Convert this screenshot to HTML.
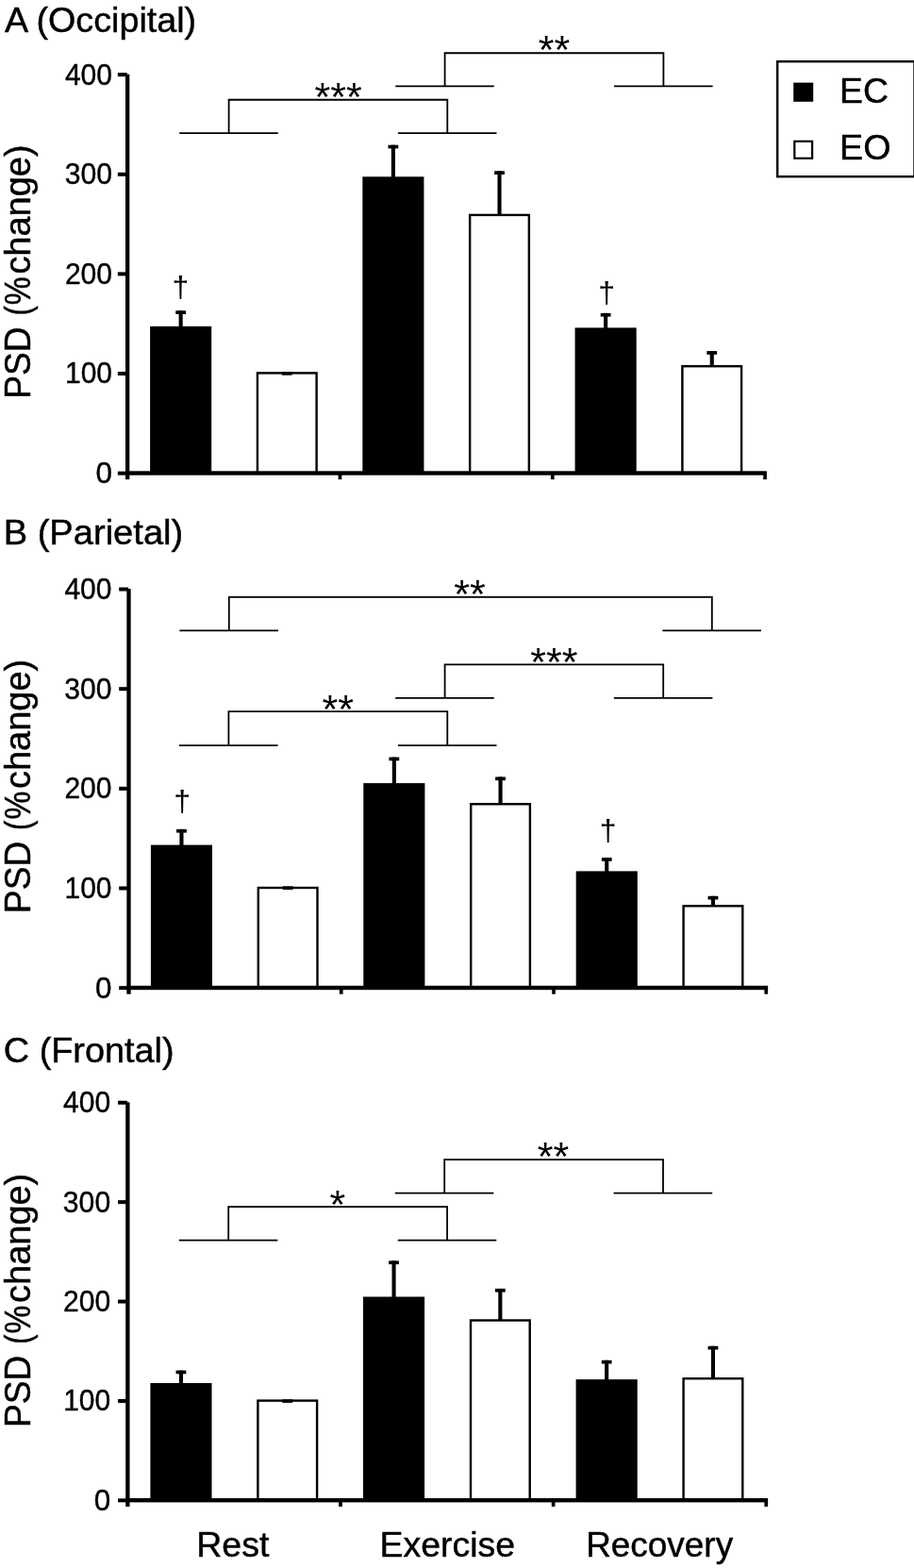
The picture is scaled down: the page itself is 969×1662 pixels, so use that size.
<!DOCTYPE html>
<html><head><meta charset="utf-8"><title>Figure</title>
<style>html,body{margin:0;padding:0;background:#fff}svg{display:block;will-change:transform}</style></head><body>
<svg width="969" height="1662" viewBox="0 0 969 1662">
<rect width="969" height="1662" fill="#fff"/>
<rect x="189.60" y="329.30" width="4.1" height="17.60" fill="#000"/>
<rect x="186.25" y="329.30" width="10.8" height="3.7" fill="#000"/>
<rect x="159.10" y="345.90" width="65.1" height="155.60" fill="#000"/>
<rect x="298.87" y="394.30" width="10.8" height="3.7" fill="#000"/>
<rect x="272.92" y="395.40" width="62.70" height="106.10" fill="#fff" stroke="#000" stroke-width="2.4"/>
<rect x="298.87" y="394.30" width="10.8" height="3.4" fill="#000"/>
<rect x="414.84" y="153.70" width="4.1" height="34.60" fill="#000"/>
<rect x="411.49" y="153.70" width="10.8" height="3.7" fill="#000"/>
<rect x="384.34" y="187.30" width="65.1" height="314.20" fill="#000"/>
<rect x="527.46" y="181.30" width="4.1" height="46.40" fill="#000"/>
<rect x="524.11" y="181.30" width="10.8" height="3.7" fill="#000"/>
<rect x="498.16" y="227.90" width="62.70" height="273.60" fill="#fff" stroke="#000" stroke-width="2.4"/>
<rect x="640.08" y="331.90" width="4.1" height="16.50" fill="#000"/>
<rect x="636.73" y="331.90" width="10.8" height="3.7" fill="#000"/>
<rect x="609.58" y="347.40" width="65.1" height="154.10" fill="#000"/>
<rect x="752.70" y="372.10" width="4.1" height="15.90" fill="#000"/>
<rect x="749.35" y="372.10" width="10.8" height="3.7" fill="#000"/>
<rect x="723.40" y="388.20" width="62.70" height="113.30" fill="#fff" stroke="#000" stroke-width="2.4"/>
<rect x="133.00" y="78.70" width="4.3" height="429.50" fill="#000"/>
<rect x="133.00" y="499.30" width="679.90" height="4.4" fill="#000"/>
<rect x="124.85" y="499.65" width="10.3" height="4.0" fill="#000"/>
<text x="101.64" y="512.10" font-family="Liberation Sans, sans-serif" font-size="31" textLength="17.47" lengthAdjust="spacingAndGlyphs" stroke="#000" stroke-width="0.4">0</text>
<rect x="124.85" y="394.02" width="10.3" height="4.0" fill="#000"/>
<text x="69.05" y="406.48" font-family="Liberation Sans, sans-serif" font-size="31" textLength="50.00" lengthAdjust="spacingAndGlyphs" stroke="#000" stroke-width="0.4">100</text>
<rect x="124.85" y="288.40" width="10.3" height="4.0" fill="#000"/>
<text x="68.90" y="300.85" font-family="Liberation Sans, sans-serif" font-size="31" textLength="50.16" lengthAdjust="spacingAndGlyphs" stroke="#000" stroke-width="0.4">200</text>
<rect x="124.85" y="182.78" width="10.3" height="4.0" fill="#000"/>
<text x="68.77" y="195.22" font-family="Liberation Sans, sans-serif" font-size="31" textLength="50.29" lengthAdjust="spacingAndGlyphs" stroke="#000" stroke-width="0.4">300</text>
<rect x="124.85" y="77.15" width="9.9" height="4.0" fill="#000"/>
<text x="68.92" y="89.60" font-family="Liberation Sans, sans-serif" font-size="31" textLength="50.13" lengthAdjust="spacingAndGlyphs" stroke="#000" stroke-width="0.4">400</text>
<rect x="358.60" y="501.50" width="3.7" height="6.7" fill="#000"/>
<rect x="583.90" y="501.50" width="3.7" height="6.7" fill="#000"/>
<rect x="809.20" y="501.50" width="3.7" height="6.7" fill="#000"/>
<path d="M190.20 141.05H294.80M421.90 141.05H526.50M242.60 141.05V105.75H474.30V141.05" fill="none" stroke="#000" stroke-width="1.8"/>
<path d="M419.20 91.45H523.80M651.00 91.45H755.60M471.60 91.45V56.25H703.40V91.45" fill="none" stroke="#000" stroke-width="1.8"/>
<text x="358.70" y="116.70" font-family="Liberation Sans, sans-serif" font-size="43" text-anchor="middle" fill="#000">***</text>
<text x="587.60" y="66.80" font-family="Liberation Sans, sans-serif" font-size="43" text-anchor="middle" fill="#000">**</text>
<text x="191.50" y="315.40" font-family="Liberation Sans, sans-serif" font-size="32" text-anchor="middle" fill="#000">†</text>
<text x="643.10" y="321.40" font-family="Liberation Sans, sans-serif" font-size="32" text-anchor="middle" fill="#000">†</text>
<text transform="translate(32.30,422.77) rotate(-90)" font-family="Liberation Sans, sans-serif" font-size="38" textLength="76.49" lengthAdjust="spacingAndGlyphs" stroke="#000" stroke-width="0.45">PSD</text>
<text transform="translate(32.30,334.53) rotate(-90)" font-family="Liberation Sans, sans-serif" font-size="38" textLength="10.30" lengthAdjust="spacingAndGlyphs" stroke="#000" stroke-width="0.45">(</text>
<text transform="translate(32.30,323.17) rotate(-90)" font-family="Liberation Sans, sans-serif" font-size="38" textLength="29.82" lengthAdjust="spacingAndGlyphs" stroke="#000" stroke-width="0.45">%</text>
<text transform="translate(32.30,290.61) rotate(-90)" font-family="Liberation Sans, sans-serif" font-size="38" textLength="137.14" lengthAdjust="spacingAndGlyphs" stroke="#000" stroke-width="0.45">change)</text>
<text x="4.91" y="33.60" font-family="Liberation Sans, sans-serif" font-size="37.5" textLength="203.27" lengthAdjust="spacingAndGlyphs" stroke="#000" stroke-width="0.45">A (Occipital)</text>
<rect x="190.40" y="878.90" width="4.1" height="17.70" fill="#000"/>
<rect x="187.05" y="878.90" width="10.8" height="3.7" fill="#000"/>
<rect x="159.90" y="895.60" width="65.1" height="151.40" fill="#000"/>
<rect x="299.75" y="939.60" width="10.8" height="3.7" fill="#000"/>
<rect x="273.80" y="941.00" width="62.70" height="106.00" fill="#fff" stroke="#000" stroke-width="2.4"/>
<rect x="299.75" y="939.60" width="10.8" height="3.4" fill="#000"/>
<rect x="415.80" y="802.60" width="4.1" height="28.50" fill="#000"/>
<rect x="412.45" y="802.60" width="10.8" height="3.7" fill="#000"/>
<rect x="385.30" y="830.10" width="65.1" height="216.90" fill="#000"/>
<rect x="528.50" y="823.50" width="4.1" height="28.60" fill="#000"/>
<rect x="525.15" y="823.50" width="10.8" height="3.7" fill="#000"/>
<rect x="499.20" y="852.30" width="62.70" height="194.70" fill="#fff" stroke="#000" stroke-width="2.4"/>
<rect x="641.20" y="909.10" width="4.1" height="15.30" fill="#000"/>
<rect x="637.85" y="909.10" width="10.8" height="3.7" fill="#000"/>
<rect x="610.70" y="923.40" width="65.1" height="123.60" fill="#000"/>
<rect x="753.90" y="949.80" width="4.1" height="10.30" fill="#000"/>
<rect x="750.55" y="949.80" width="10.8" height="3.7" fill="#000"/>
<rect x="724.60" y="960.30" width="62.70" height="86.70" fill="#fff" stroke="#000" stroke-width="2.4"/>
<rect x="134.35" y="624.10" width="4.3" height="429.60" fill="#000"/>
<rect x="134.35" y="1044.80" width="679.75" height="4.4" fill="#000"/>
<rect x="126.20" y="1045.15" width="10.3" height="4.0" fill="#000"/>
<text x="101.14" y="1057.60" font-family="Liberation Sans, sans-serif" font-size="31" textLength="17.47" lengthAdjust="spacingAndGlyphs" stroke="#000" stroke-width="0.4">0</text>
<rect x="126.20" y="939.50" width="10.3" height="4.0" fill="#000"/>
<text x="68.55" y="951.95" font-family="Liberation Sans, sans-serif" font-size="31" textLength="50.00" lengthAdjust="spacingAndGlyphs" stroke="#000" stroke-width="0.4">100</text>
<rect x="126.20" y="833.85" width="10.3" height="4.0" fill="#000"/>
<text x="68.40" y="846.30" font-family="Liberation Sans, sans-serif" font-size="31" textLength="50.16" lengthAdjust="spacingAndGlyphs" stroke="#000" stroke-width="0.4">200</text>
<rect x="126.20" y="728.20" width="10.3" height="4.0" fill="#000"/>
<text x="68.27" y="740.65" font-family="Liberation Sans, sans-serif" font-size="31" textLength="50.29" lengthAdjust="spacingAndGlyphs" stroke="#000" stroke-width="0.4">300</text>
<rect x="126.20" y="622.55" width="9.9" height="4.0" fill="#000"/>
<text x="68.42" y="635.00" font-family="Liberation Sans, sans-serif" font-size="31" textLength="50.13" lengthAdjust="spacingAndGlyphs" stroke="#000" stroke-width="0.4">400</text>
<rect x="359.90" y="1047.00" width="3.7" height="6.7" fill="#000"/>
<rect x="585.15" y="1047.00" width="3.7" height="6.7" fill="#000"/>
<rect x="810.40" y="1047.00" width="3.7" height="6.7" fill="#000"/>
<path d="M190.40 668.35H295.00M702.40 668.35H807.00M242.80 668.35V632.95H754.80V668.35" fill="none" stroke="#000" stroke-width="1.8"/>
<path d="M419.20 739.95H523.80M650.80 739.95H755.40M471.60 739.95V704.35H703.20V739.95" fill="none" stroke="#000" stroke-width="1.8"/>
<path d="M190.00 790.05H294.60M421.90 790.05H526.50M242.40 790.05V754.15H474.30V790.05" fill="none" stroke="#000" stroke-width="1.8"/>
<text x="498.05" y="643.90" font-family="Liberation Sans, sans-serif" font-size="43" text-anchor="middle" fill="#000">**</text>
<text x="587.40" y="716.00" font-family="Liberation Sans, sans-serif" font-size="43" text-anchor="middle" fill="#000">***</text>
<text x="358.15" y="765.75" font-family="Liberation Sans, sans-serif" font-size="43" text-anchor="middle" fill="#000">**</text>
<text x="193.10" y="860.40" font-family="Liberation Sans, sans-serif" font-size="32" text-anchor="middle" fill="#000">†</text>
<text x="644.60" y="890.60" font-family="Liberation Sans, sans-serif" font-size="32" text-anchor="middle" fill="#000">†</text>
<text transform="translate(32.30,968.17) rotate(-90)" font-family="Liberation Sans, sans-serif" font-size="38" textLength="76.49" lengthAdjust="spacingAndGlyphs" stroke="#000" stroke-width="0.45">PSD</text>
<text transform="translate(32.30,879.93) rotate(-90)" font-family="Liberation Sans, sans-serif" font-size="38" textLength="10.30" lengthAdjust="spacingAndGlyphs" stroke="#000" stroke-width="0.45">(</text>
<text transform="translate(32.30,868.57) rotate(-90)" font-family="Liberation Sans, sans-serif" font-size="38" textLength="29.82" lengthAdjust="spacingAndGlyphs" stroke="#000" stroke-width="0.45">%</text>
<text transform="translate(32.30,836.01) rotate(-90)" font-family="Liberation Sans, sans-serif" font-size="38" textLength="137.14" lengthAdjust="spacingAndGlyphs" stroke="#000" stroke-width="0.45">change)</text>
<text x="3.66" y="577.40" font-family="Liberation Sans, sans-serif" font-size="37.5" textLength="190.59" lengthAdjust="spacingAndGlyphs" stroke="#000" stroke-width="0.45">B (Parietal)</text>
<rect x="189.90" y="1452.60" width="4.1" height="14.40" fill="#000"/>
<rect x="186.55" y="1452.60" width="10.8" height="3.7" fill="#000"/>
<rect x="159.40" y="1466.00" width="65.1" height="124.20" fill="#000"/>
<rect x="299.35" y="1483.50" width="10.8" height="3.7" fill="#000"/>
<rect x="273.40" y="1484.60" width="62.70" height="105.60" fill="#fff" stroke="#000" stroke-width="2.4"/>
<rect x="299.35" y="1483.50" width="10.8" height="3.4" fill="#000"/>
<rect x="415.50" y="1336.40" width="4.1" height="39.10" fill="#000"/>
<rect x="412.15" y="1336.40" width="10.8" height="3.7" fill="#000"/>
<rect x="385.00" y="1374.50" width="65.1" height="215.70" fill="#000"/>
<rect x="528.30" y="1365.90" width="4.1" height="33.40" fill="#000"/>
<rect x="524.95" y="1365.90" width="10.8" height="3.7" fill="#000"/>
<rect x="499.00" y="1399.50" width="62.70" height="190.70" fill="#fff" stroke="#000" stroke-width="2.4"/>
<rect x="641.10" y="1441.80" width="4.1" height="21.30" fill="#000"/>
<rect x="637.75" y="1441.80" width="10.8" height="3.7" fill="#000"/>
<rect x="610.60" y="1462.10" width="65.1" height="128.10" fill="#000"/>
<rect x="753.90" y="1426.80" width="4.1" height="34.20" fill="#000"/>
<rect x="750.55" y="1426.80" width="10.8" height="3.7" fill="#000"/>
<rect x="724.60" y="1461.20" width="62.70" height="129.00" fill="#fff" stroke="#000" stroke-width="2.4"/>
<rect x="133.20" y="1168.30" width="4.3" height="428.60" fill="#000"/>
<rect x="133.20" y="1588.00" width="680.90" height="4.4" fill="#000"/>
<rect x="125.05" y="1588.35" width="10.3" height="4.0" fill="#000"/>
<text x="99.74" y="1600.80" font-family="Liberation Sans, sans-serif" font-size="31" textLength="17.47" lengthAdjust="spacingAndGlyphs" stroke="#000" stroke-width="0.4">0</text>
<rect x="125.05" y="1482.95" width="10.3" height="4.0" fill="#000"/>
<text x="67.15" y="1495.40" font-family="Liberation Sans, sans-serif" font-size="31" textLength="50.00" lengthAdjust="spacingAndGlyphs" stroke="#000" stroke-width="0.4">100</text>
<rect x="125.05" y="1377.55" width="10.3" height="4.0" fill="#000"/>
<text x="67.00" y="1390.00" font-family="Liberation Sans, sans-serif" font-size="31" textLength="50.16" lengthAdjust="spacingAndGlyphs" stroke="#000" stroke-width="0.4">200</text>
<rect x="125.05" y="1272.15" width="10.3" height="4.0" fill="#000"/>
<text x="66.87" y="1284.60" font-family="Liberation Sans, sans-serif" font-size="31" textLength="50.29" lengthAdjust="spacingAndGlyphs" stroke="#000" stroke-width="0.4">300</text>
<rect x="125.05" y="1166.75" width="9.9" height="4.0" fill="#000"/>
<text x="67.02" y="1179.20" font-family="Liberation Sans, sans-serif" font-size="31" textLength="50.13" lengthAdjust="spacingAndGlyphs" stroke="#000" stroke-width="0.4">400</text>
<rect x="359.13" y="1590.20" width="3.7" height="6.7" fill="#000"/>
<rect x="584.77" y="1590.20" width="3.7" height="6.7" fill="#000"/>
<rect x="810.40" y="1590.20" width="3.7" height="6.7" fill="#000"/>
<path d="M189.80 1314.55H294.40M421.70 1314.55H526.30M242.20 1314.55V1279.05H474.10V1314.55" fill="none" stroke="#000" stroke-width="1.8"/>
<path d="M418.80 1264.55H523.40M650.60 1264.55H755.20M471.20 1264.55V1229.05H703.00V1264.55" fill="none" stroke="#000" stroke-width="1.8"/>
<text x="357.80" y="1290.70" font-family="Liberation Sans, sans-serif" font-size="43" text-anchor="middle" fill="#000">*</text>
<text x="586.55" y="1239.80" font-family="Liberation Sans, sans-serif" font-size="43" text-anchor="middle" fill="#000">**</text>
<text transform="translate(32.30,1513.07) rotate(-90)" font-family="Liberation Sans, sans-serif" font-size="38" textLength="76.49" lengthAdjust="spacingAndGlyphs" stroke="#000" stroke-width="0.45">PSD</text>
<text transform="translate(32.30,1424.83) rotate(-90)" font-family="Liberation Sans, sans-serif" font-size="38" textLength="10.30" lengthAdjust="spacingAndGlyphs" stroke="#000" stroke-width="0.45">(</text>
<text transform="translate(32.30,1413.47) rotate(-90)" font-family="Liberation Sans, sans-serif" font-size="38" textLength="29.82" lengthAdjust="spacingAndGlyphs" stroke="#000" stroke-width="0.45">%</text>
<text transform="translate(32.30,1380.91) rotate(-90)" font-family="Liberation Sans, sans-serif" font-size="38" textLength="137.14" lengthAdjust="spacingAndGlyphs" stroke="#000" stroke-width="0.45">change)</text>
<text x="3.81" y="1126.40" font-family="Liberation Sans, sans-serif" font-size="37.5" textLength="180.80" lengthAdjust="spacingAndGlyphs" stroke="#000" stroke-width="0.45">C (Frontal)</text>
<rect x="824.2" y="65.2" width="145.3" height="122" fill="#fff" stroke="#000" stroke-width="2.4"/>
<rect x="841.2" y="87.6" width="21" height="20.2" fill="#000"/>
<rect x="842.3" y="149.8" width="18.8" height="18" fill="#fff" stroke="#000" stroke-width="2.2"/>
<text x="890.12" y="108.60" font-family="Liberation Sans, sans-serif" font-size="36.5" textLength="51.85" lengthAdjust="spacingAndGlyphs" stroke="#000" stroke-width="0.45">EC</text>
<text x="890.09" y="169.40" font-family="Liberation Sans, sans-serif" font-size="36.5" textLength="54.50" lengthAdjust="spacingAndGlyphs" stroke="#000" stroke-width="0.45">EO</text>
<text x="208.31" y="1650.00" font-family="Liberation Sans, sans-serif" font-size="36" textLength="77.02" lengthAdjust="spacingAndGlyphs" stroke="#000" stroke-width="0.45">Rest</text>
<text x="402.51" y="1650.00" font-family="Liberation Sans, sans-serif" font-size="36" textLength="143.56" lengthAdjust="spacingAndGlyphs" stroke="#000" stroke-width="0.45">Exercise</text>
<text x="621.15" y="1650.00" font-family="Liberation Sans, sans-serif" font-size="36" textLength="155.98" lengthAdjust="spacingAndGlyphs" stroke="#000" stroke-width="0.45">Recovery</text>
</svg></body></html>
